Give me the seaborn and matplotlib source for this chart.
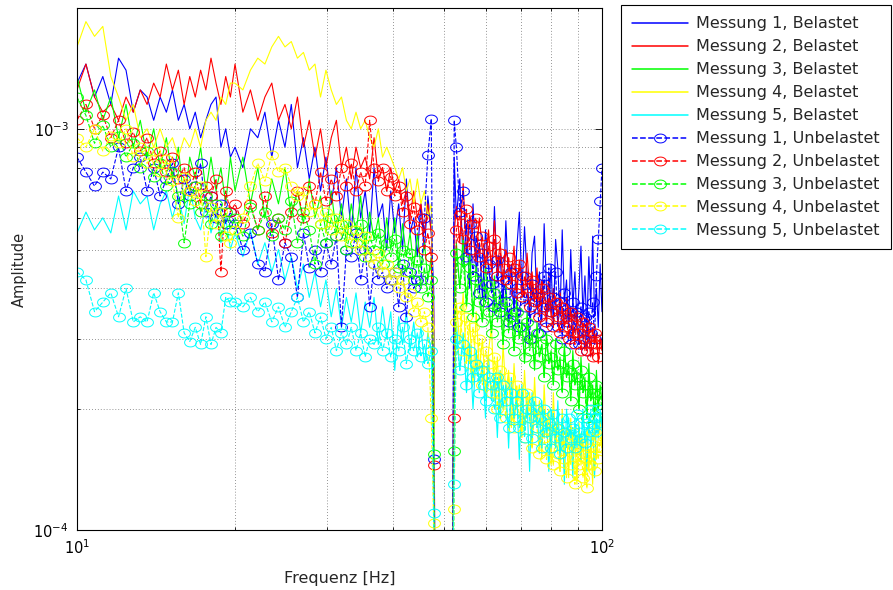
import numpy as np
import matplotlib
matplotlib.use("Agg")
import matplotlib.pyplot as plt
from matplotlib.path import Path
from matplotlib.ticker import NullFormatter
import seaborn as sns

# frequency grid [Hz]; 48.1 .. 51.9 Hz is notched out
freq = [10.0, 10.4, 10.8, 11.2, 11.6, 12.0, 12.4, 12.8, 13.2, 13.6,
        14.0, 14.4, 14.8, 15.2, 15.6, 16.0, 16.4, 16.8, 17.2, 17.6,
        18.0, 18.4, 18.8, 19.2, 19.6,
        20.0, 20.7, 21.4, 22.1, 22.8, 23.5, 24.2, 24.9, 25.6, 26.3,
        27.0, 27.7, 28.4, 29.1, 29.8, 30.5, 31.2, 31.9, 32.6, 33.3,
        34.0, 34.7, 35.4, 36.1, 36.8, 37.5, 38.2, 38.9, 39.6, 40.3,
        41.0, 41.7, 42.4, 43.1, 43.8, 44.5, 45.2, 45.9, 46.6, 47.3,
        47.8, 48.1,
        51.9, 52.3, 52.8, 53.6, 54.4, 55.2, 56.0, 56.8, 57.6, 58.4,
        59.2, 60.0, 60.8, 61.6, 62.4, 63.2, 64.0, 64.8, 65.6, 66.4,
        67.2, 68.0, 68.8, 69.6, 70.4, 71.2, 72.0, 72.8, 73.6, 74.4,
        75.2, 76.0, 76.8, 77.6, 78.4, 79.2, 80.0, 80.8, 81.6, 82.4,
        83.2, 84.0, 84.8, 85.6, 86.4, 87.2, 88.0, 88.8, 89.6, 90.4,
        91.2, 92.0, 92.8, 93.6, 94.4, 95.2, 96.0, 96.8, 97.6, 98.4,
        99.2, 100.0]

# amplitudes in units of 1e-4
scale = 1e-4

bel1 = [13.0, 14.5, 12.0, 13.5, 11.5, 15.0, 14.0, 11.0, 12.5, 12.0,
        10.5, 12.0, 11.0, 12.5, 10.5, 11.5, 10.0, 11.0, 9.5, 10.5,
        11.5, 12.0, 9.0, 10.0, 8.5,
        9.0, 8.0, 10.0, 9.5, 11.0, 8.5, 10.5, 9.0, 11.5, 8.0,
        9.5, 7.5, 9.0, 7.0, 8.5, 6.5, 8.0, 6.0, 7.5, 5.5,
        8.0, 6.0, 7.0, 5.5, 8.0, 6.0, 6.5, 5.0, 7.0, 5.5,
        6.5, 5.0, 7.5, 5.5, 6.0, 4.8, 6.5, 5.0, 6.8, 5.5,
        4.0, 0.5,
        0.5, 8.5, 6.0, 7.5, 4.6, 5.8, 4.0, 6.5, 4.4, 5.2,
        3.8, 5.6, 4.5, 3.9, 6.4, 4.2, 4.8, 3.6, 5.9, 4.1,
        4.6, 3.5, 5.0, 6.2, 3.9, 5.7, 4.3, 3.4, 4.9, 5.4,
        3.6, 4.4, 3.3, 5.8, 4.0, 3.5, 4.6, 3.2, 5.3, 4.5,
        3.4, 5.6, 3.7, 4.2, 3.2, 5.0, 3.6, 4.4, 3.3, 4.0,
        5.1, 3.4, 4.3, 3.1, 4.8, 3.6, 5.4, 3.4, 4.0, 3.2,
        4.6, 3.5]

bel2 = [12.5, 14.5, 12.0, 11.0, 11.5, 10.5, 12.0, 11.0, 12.5, 11.5,
        13.0, 12.0, 14.5, 12.5, 14.0, 11.5, 13.5, 12.0, 14.0, 12.5,
        15.0, 13.0, 11.5, 13.5, 12.0,
        14.5, 11.0, 12.5, 10.5, 12.0, 13.0, 10.5, 11.5, 10.0, 12.0,
        9.0, 10.5, 8.5, 10.0, 8.0, 9.5, 10.5, 8.0, 9.0, 7.5,
        9.0, 8.0, 8.5, 7.5, 9.5, 7.5, 8.0, 7.0, 8.0, 7.0,
        7.5, 6.5, 7.0, 6.0, 7.0, 6.0, 6.5, 5.5, 6.5, 5.5,
        3.5, 0.5,
        0.5, 5.5, 6.4, 5.2, 7.3, 4.9, 6.1, 5.4, 4.7, 6.0,
        5.0, 4.6, 5.6, 4.4, 5.9, 4.5, 5.2, 4.1, 5.0, 4.6,
        4.3, 5.1, 3.9, 4.7, 4.2, 3.8, 4.9, 4.0, 4.4, 3.7,
        4.5, 3.6, 4.2, 3.9, 3.5, 4.3, 3.4, 4.0, 3.7, 3.3,
        3.9, 3.5, 3.2, 3.8, 3.3, 3.6, 3.0, 3.5, 3.2, 2.9,
        3.4, 3.1, 2.8, 3.3, 3.0, 2.7, 3.2, 2.9, 3.1, 2.6,
        3.0, 2.8]

bel3 = [13.5, 11.0, 12.5, 10.5, 12.0, 9.5, 11.5, 9.0, 10.5, 8.5,
        10.0, 8.0, 9.5, 7.5, 9.0, 6.5, 8.5, 7.5, 9.0, 7.0,
        8.5, 7.0, 8.0, 6.5, 8.5,
        7.0, 8.5, 6.5, 8.0, 6.0, 7.5, 6.5, 8.0, 6.0, 7.0,
        5.8, 7.5, 6.0, 6.8, 5.5, 7.0, 5.5, 6.5, 5.2, 6.5,
        5.5, 6.8, 5.0, 6.2, 5.3, 6.0, 4.8, 6.0, 5.0, 6.0,
        4.6, 5.8, 4.8, 5.5, 4.5, 5.5, 4.5, 5.2, 4.2, 4.8,
        3.0, 0.5,
        0.5, 3.8, 5.2, 4.0, 5.4, 3.6, 4.9, 3.4, 4.5, 4.0,
        3.3, 4.6, 3.7, 3.1, 4.3, 3.5, 3.9, 2.9, 4.1, 3.2,
        3.6, 2.8, 3.8, 3.0, 3.3, 2.6, 3.5, 2.9, 3.1, 2.5,
        3.3, 2.7, 2.9, 2.4, 3.1, 2.6, 2.8, 2.3, 3.0, 2.5,
        2.7, 2.2, 2.9, 2.4, 2.6, 2.1, 2.8, 2.3, 2.5, 2.0,
        2.7, 2.2, 2.4, 1.9, 2.6, 2.1, 2.3, 1.9, 2.5, 2.0,
        2.3, 2.1]

bel4 = [16.0, 18.5, 17.0, 18.0, 13.5, 12.0, 10.5, 11.5, 9.5, 10.0,
        9.0, 10.0, 9.0, 9.5, 8.5, 9.5, 9.0, 10.0, 9.0, 10.5,
        11.0, 10.5, 12.0, 11.5, 13.0,
        13.0, 12.5, 14.0, 15.0, 14.5, 16.0, 17.0, 16.0, 16.5, 15.0,
        15.5, 14.0, 14.5, 12.0, 14.0, 12.5, 11.5, 12.0, 10.5, 10.0,
        11.0, 10.0, 10.5, 9.5, 9.0, 10.0, 8.5, 9.0, 8.5, 8.0,
        7.5, 8.0, 7.0, 7.5, 6.5, 7.5, 6.5, 7.0, 6.0, 6.5,
        3.0, 0.5,
        0.5, 2.4, 3.7, 2.9, 3.9, 2.6, 3.3, 2.3, 3.5, 2.5,
        3.0, 2.2, 2.8, 3.2, 2.1, 2.7, 1.9, 2.9, 2.2, 2.5,
        1.8, 2.6, 2.0, 2.3, 1.7, 2.5, 1.9, 2.2, 1.6, 2.4,
        1.8, 2.1, 1.5, 2.3, 1.7, 2.0, 1.45, 2.2, 1.6, 1.9,
        1.4, 2.0, 1.55, 1.8, 1.35, 1.9, 1.5, 1.7, 1.3, 1.85,
        1.45, 1.7, 1.3, 1.8, 1.4, 1.65, 1.3, 1.9, 1.5, 1.7,
        1.95, 1.6]

bel5 = [5.5, 6.2, 5.6, 6.0, 5.5, 6.8, 5.6, 7.0, 6.5, 6.8,
        5.6, 6.5, 7.0, 6.0, 6.8, 5.8, 7.2, 6.0, 5.6, 6.5,
        5.5, 6.2, 5.2, 6.0, 5.0,
        5.5, 4.8, 5.6, 4.6, 5.2, 4.4, 5.0, 4.2, 4.8, 4.0,
        4.6, 3.8, 4.4, 3.6, 4.2, 3.4, 4.0, 3.2, 3.8, 3.3,
        3.9, 3.1, 3.7, 3.2, 3.8, 2.9, 3.6, 3.0, 3.5, 2.5,
        3.4, 2.9, 3.5, 2.8, 3.3, 2.7, 3.2, 2.6, 3.1, 2.8,
        1.8, 0.5,
        0.5, 2.1, 3.3, 2.5, 3.1, 2.2, 2.9, 2.0, 2.8, 2.3,
        2.6, 1.9, 2.7, 2.1, 2.4, 1.7, 2.5, 2.0, 2.3, 1.6,
        2.4, 1.9, 2.2, 1.5, 2.3, 1.8, 2.1, 1.4, 2.2, 1.9,
        2.0, 1.6, 2.1, 1.7, 1.9, 1.4, 2.0, 1.8, 1.6, 2.1,
        1.5, 1.9, 1.3, 2.0, 1.7, 1.8, 1.35, 1.9, 1.6, 1.8,
        1.5, 2.0, 1.7, 1.4, 1.9, 1.6, 1.8, 1.35, 1.9, 1.7,
        2.0, 1.8]

unb1 = [8.5, 7.8, 7.2, 7.8, 7.5, 9.0, 7.0, 8.0, 8.5, 7.0,
        8.0, 6.8, 7.5, 8.2, 6.5, 7.5, 6.8, 7.2, 8.2, 6.2,
        6.8, 6.0, 6.5, 5.8, 6.2,
        5.8, 5.0, 5.5, 4.6, 4.4, 5.8, 4.2, 5.2, 4.8, 3.8,
        5.5, 4.5, 5.0, 4.4, 5.2, 4.6, 5.4, 3.2, 5.0, 4.8,
        5.5, 4.2, 5.0, 3.6, 4.6, 4.2, 4.4, 4.0, 4.2, 4.4,
        3.6, 4.6, 3.4, 4.4, 4.0, 4.2, 4.2, 6.0, 8.6, 10.6,
        1.5, 0.5,
        0.5, 10.5, 9.0, 6.2, 7.0, 4.8, 5.8, 4.3, 5.4, 3.9,
        4.9, 3.7, 4.6, 4.1, 3.6, 4.7, 3.5, 4.2, 3.9, 3.3,
        4.4, 3.5, 4.0, 3.2, 4.3, 3.6, 3.9, 3.0, 4.1, 3.4,
        3.8, 3.1, 3.6, 4.3, 3.2, 4.5, 3.5, 3.8, 4.4, 3.2,
        3.7, 3.0, 3.9, 3.3, 3.5, 2.9, 3.7, 3.1, 3.5, 2.9,
        3.6, 3.0, 3.4, 2.8, 3.5, 3.1, 3.7, 3.0, 4.3, 5.3,
        6.6, 8.0]

unb2 = [10.5, 11.5, 10.0, 10.8, 9.5, 10.5, 9.2, 9.8, 8.8, 9.5,
        8.2, 8.8, 7.8, 8.5, 7.5, 8.0, 7.0, 7.8, 6.5, 7.2,
        6.8, 7.5, 4.4, 7.0, 6.2,
        6.5, 5.8, 6.5, 5.6, 6.8, 5.5, 6.0, 5.2, 6.2, 7.0,
        6.0, 7.2, 6.5, 7.8, 6.6, 7.5, 6.8, 8.0, 7.2, 8.2,
        7.0, 7.8, 7.2, 10.5, 8.0, 7.4, 8.0, 7.0, 7.6, 6.8,
        7.2, 6.2, 6.8, 5.8, 6.4, 5.6, 6.0, 5.0, 5.5, 4.8,
        1.45, 0.5,
        0.5, 1.9, 5.6, 6.1, 5.3, 6.3, 5.0, 5.8, 6.0, 4.8,
        5.4, 4.5, 5.1, 4.7, 5.3, 4.3, 4.9, 4.5, 4.2, 4.8,
        4.1, 4.5, 3.9, 4.6, 3.8, 4.3, 4.0, 3.6, 4.2, 3.7,
        3.9, 3.4, 4.0, 3.6, 3.3, 3.8, 3.5, 3.2, 3.7, 3.4,
        3.1, 3.6, 3.2, 3.4, 3.0, 3.5, 3.1, 2.9, 3.4, 3.1,
        2.8, 3.3, 3.0, 2.8, 3.2, 2.9, 2.7, 3.1, 2.9, 2.7,
        3.0, 2.9]

unb3 = [12.0, 10.8, 9.2, 10.2, 9.0, 9.6, 8.5, 9.2, 8.0, 8.8,
        7.6, 8.2, 7.2, 7.8, 6.8, 5.2, 6.5, 7.2, 6.2, 6.8,
        5.8, 6.5, 5.4, 6.2, 5.6,
        6.0, 5.4, 6.4, 5.6, 6.2, 5.4, 6.0, 5.6, 6.6, 5.2,
        6.2, 5.6, 4.6, 5.8, 5.2, 6.0, 5.4, 5.8, 5.0, 5.6,
        5.2, 5.8, 4.8, 5.4, 5.0, 5.5, 4.6, 5.2, 4.8, 5.3,
        4.5, 5.0, 4.4, 4.9, 4.2, 4.7, 4.0, 4.5, 3.8, 4.2,
        1.55, 0.5,
        0.5, 1.57, 4.9, 4.0, 4.7, 3.6, 4.5, 3.4, 4.2, 3.7,
        3.3, 4.1, 3.5, 3.1, 3.9, 3.3, 3.6, 2.9, 3.7, 3.1,
        3.4, 2.8, 3.5, 3.0, 3.2, 2.7, 3.3, 2.8, 3.0, 2.6,
        3.1, 2.7, 2.9, 2.4, 3.0, 2.6, 2.7, 2.3, 2.9, 2.5,
        2.6, 2.2, 2.8, 2.4, 2.5, 2.1, 2.6, 2.3, 2.4, 2.0,
        2.5, 2.2, 2.3, 1.9, 2.4, 2.1, 2.2, 1.9, 2.3, 2.0,
        2.2, 2.0]

unb4 = [9.5, 9.0, 10.0, 8.8, 9.6, 9.2, 10.0, 8.5, 9.0, 8.2,
        8.8, 7.8, 8.4, 7.4, 6.0, 7.6, 7.0, 6.6, 7.2, 4.8,
        6.4, 5.8, 6.2, 5.4, 5.2,
        5.6, 6.0, 7.2, 8.2, 7.4, 8.6, 7.8, 8.0, 7.2, 6.8,
        7.0, 6.2, 6.5, 5.8, 6.2, 5.6, 6.0, 5.4, 5.8, 5.2,
        5.6, 5.0, 5.4, 4.8, 4.6, 4.9, 4.4, 4.6, 4.2, 4.4,
        4.0, 4.2, 3.8, 3.9, 3.5, 3.7, 3.3, 3.5, 3.2, 1.9,
        1.04, 0.5,
        0.5, 1.13, 3.3, 3.6, 2.8, 3.4, 2.6, 3.2, 2.5, 3.0,
        2.3, 2.8, 2.6, 2.2, 2.7, 2.0, 2.5, 2.3, 1.9, 2.4,
        2.1, 1.8, 2.3, 1.9, 2.1, 1.7, 2.2, 1.9, 1.6, 2.0,
        1.8, 1.55, 1.9, 1.7, 1.5, 1.85, 1.6, 1.45, 1.8, 1.55,
        1.4, 1.7, 1.5, 1.35, 1.65, 1.45, 1.75, 1.3, 1.6, 1.45,
        1.7, 1.35, 1.55, 1.27, 1.6, 1.45, 1.75, 1.4, 1.6, 1.5,
        1.7, 1.6]

unb5 = [4.4, 4.2, 3.5, 3.7, 3.9, 3.4, 4.0, 3.3, 3.4, 3.3,
        3.9, 3.5, 3.3, 3.3, 3.9, 3.1, 2.95, 3.2, 2.9, 3.4,
        2.9, 3.2, 3.1, 3.8, 3.7,
        3.7, 3.6, 3.8, 3.5, 3.7, 3.3, 3.6, 3.2, 3.5, 3.8,
        3.3, 3.5, 3.1, 3.4, 3.0, 3.2, 2.8, 3.1, 2.9, 3.2,
        2.8, 3.1, 2.7, 3.0, 2.9, 3.2, 2.8, 3.1, 2.7, 3.0,
        2.8, 3.2, 2.6, 3.0, 2.8, 3.1, 2.7, 2.9, 2.6, 2.8,
        1.1, 0.5,
        0.5, 1.3, 3.0, 2.5, 2.9, 2.3, 2.8, 2.4, 2.6, 2.2,
        2.5, 2.1, 2.4, 2.3, 2.0, 2.4, 1.9, 2.3, 2.1, 1.8,
        2.2, 1.9, 2.1, 1.8, 2.2, 1.7, 2.0, 1.9, 1.7, 2.1,
        1.8, 1.9, 1.6, 2.0, 1.75, 1.85, 1.6, 1.95, 1.7, 1.8,
        1.55, 1.9, 1.75, 1.6, 1.9, 1.7, 1.8, 1.6, 1.95, 1.75,
        1.7, 1.9, 1.65, 1.85, 1.75, 2.0, 1.8, 1.9, 1.75, 2.0,
        1.9, 1.85]

belastet = [bel1, bel2, bel3, bel4, bel5]
unbelastet = [unb1, unb2, unb3, unb4, unb5]
colors = ["#0000ff", "#ff0000", "#00ff00", "#ffff00", "#00ffff"]

sns.set_style("ticks", {"xtick.direction": "in", "ytick.direction": "in",
                        "axes.edgecolor": "black"})
plt.rcParams["font.family"] = ["DejaVu Sans"]

fig = plt.figure(figsize=(8.93, 5.9), dpi=100)
ax = fig.add_axes([0.0862, 0.1017, 0.5879, 0.8847])

# MATLAB draws its 'o' marker slightly flattened here
t = np.linspace(0, 2 * np.pi, 41)
ring = Path(np.column_stack([np.cos(t), 0.75 * np.sin(t)]))

for i, (vals, c) in enumerate(zip(belastet, colors)):
    sns.lineplot(x=freq, y=np.array(vals) * scale, color=c, lw=0.8,
                 estimator=None, sort=False, ax=ax,
                 label=f"Messung {i + 1}, Belastet")

for i, (vals, c) in enumerate(zip(unbelastet, colors)):
    sns.lineplot(x=freq, y=np.array(vals) * scale, color=c, lw=0.8,
                 linestyle="--", marker=ring, markersize=8.5,
                 markerfacecolor="none", markeredgecolor=c,
                 markeredgewidth=0.7, estimator=None, sort=False, ax=ax,
                 label=f"Messung {i + 1}, Unbelastet")

ax.set_xscale("log")
ax.set_yscale("log")
ax.set_xlim(10, 100)
ax.set_ylim(1e-4, 2e-3)
ax.xaxis.set_minor_formatter(NullFormatter())
ax.yaxis.set_minor_formatter(NullFormatter())

ax.grid(True, which="both", linestyle=(0, (1, 2.5)), color="0.45", linewidth=0.6)
ax.set_axisbelow(True)
ax.tick_params(which="both", direction="in", top=True, right=True,
               colors="black", labelsize=10.5)
ax.tick_params(which="major", length=5, width=0.6, pad=6)
ax.tick_params(which="minor", length=2.5, width=0.6)
for sp in ax.spines.values():
    sp.set_color("black")
    sp.set_linewidth(0.8)

ax.set_xlabel("Frequenz [Hz]", fontsize=11.5, labelpad=10)
ax.set_ylabel("Amplitude", fontsize=10.5, labelpad=5)

leg = ax.legend(loc="upper left", bbox_to_anchor=(0.6954, 0.9915),
                bbox_transform=fig.transFigure, borderaxespad=0,
                fontsize=11.5, handlelength=3.5, handletextpad=0.5,
                labelspacing=0.5, borderpad=0.7, fancybox=False,
                framealpha=1, edgecolor="black", numpoints=1)
leg.get_frame().set_linewidth(0.8)
for h in leg.get_lines():
    h.set_linewidth(1.1)

fig.savefig("out.png", dpi=100)
